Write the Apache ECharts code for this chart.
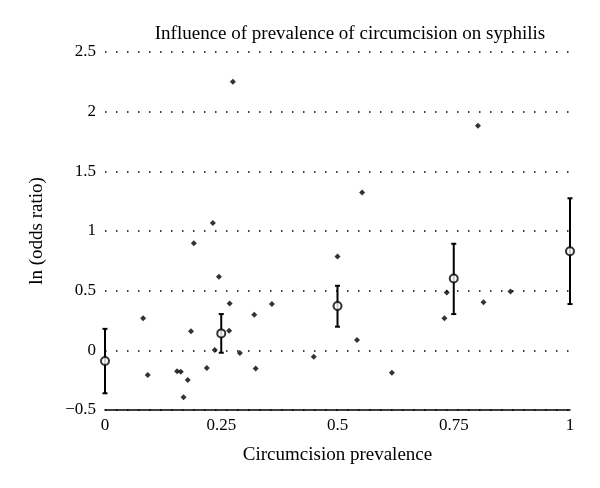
<!DOCTYPE html>
<html>
<head>
<meta charset="utf-8">
<script src="https://cdn.jsdelivr.net/npm/echarts@6/dist/echarts.min.js"></script>
<style>html,body{margin:0;padding:0;background:#fff}#c{width:600px;height:488px}</style>
</head>
<body>
<div id="c"></div>
<script>
// Individual studies: circumcision prevalence and ln(odds ratio)
var studyX = [0.082,0.092,0.155,0.163,0.169,0.178,0.185,0.191,0.219,0.232,0.236,0.245,0.267,0.268,0.275,0.290,0.321,0.324,0.359,0.449,0.500,0.542,0.553,0.617,0.730,0.735,0.802,0.814,0.872];
var studyY = [0.268,-0.207,-0.176,-0.180,-0.393,-0.248,0.159,0.898,-0.148,1.068,0.003,0.617,0.165,0.393,2.251,-0.022,0.299,-0.153,0.388,-0.053,0.787,0.086,1.322,-0.187,0.268,0.485,1.883,0.402,0.494];
// Pooled estimates with confidence intervals
var groupX = [0, 0.25, 0.5, 0.75, 1];
var groupMean = [-0.09, 0.142, 0.371, 0.602, 0.831];
var groupLow = [-0.36, -0.02, 0.198, 0.304, 0.388];
var groupHigh = [0.18, 0.304, 0.541, 0.893, 1.274];
var xTicks = [0, 0.25, 0.5, 0.75, 1];
var yTicks = [-0.5, 0, 0.5, 1, 1.5, 2, 2.5];

var font = '"Liberation Serif", "DejaVu Serif", serif';
var scatterData = studyX.map(function(x, i){ return [x, studyY[i]]; });
var meanData = groupX.map(function(x, i){ return [x, groupMean[i]]; });
var barData = groupX.map(function(x, i){ return [x, groupLow[i], groupHigh[i]]; });

var chart = echarts.init(document.getElementById('c'), null, {renderer: 'canvas'});
chart.setOption({
  backgroundColor: '#fff',
  animation: false,
  title: {
    text: 'Influence of prevalence of circumcision on syphilis',
    left: 345, top: 20, textAlign: 'center',
    textStyle: {fontFamily: font, fontSize: 19, fontWeight: 'normal', color: '#000'}
  },
  grid: {left: 105, right: 30, top: 52, bottom: 78, containLabel: false},
  xAxis: {
    type: 'value', min: 0, max: 1, interval: 0.25,
    name: 'Circumcision prevalence', nameLocation: 'middle', nameGap: 36,
    nameTextStyle: {fontFamily: font, fontSize: 19, color: '#000'},
    axisLine: {show: true, onZero: false, lineStyle: {color: '#000', width: 1.5}},
    axisTick: {show: false},
    splitLine: {show: false},
    axisLabel: {
      fontFamily: font, fontSize: 17, color: '#000', margin: 7,
      formatter: function(v){ var i = xTicks.indexOf(v); return i >= 0 ? String(xTicks[i]) : ''; }
    }
  },
  yAxis: {
    type: 'value', min: -0.5, max: 2.5, interval: 0.5,
    name: 'ln (odds ratio)', nameLocation: 'middle', nameGap: 58, nameRotate: 90,
    nameTextStyle: {fontFamily: font, fontSize: 19, color: '#000'},
    axisLine: {show: false},
    axisTick: {show: false},
    axisLabel: {
      fontFamily: font, fontSize: 17, color: '#000', margin: 9,
      formatter: function(v){ var i = yTicks.indexOf(v); var t = i >= 0 ? yTicks[i] : v; return t < 0 ? '\u2212' + String(-t) : String(t); }
    },
    splitLine: {
      show: true,
      lineStyle: {color: '#000', width: 1.5, type: [1.5, 9.5]}
    }
  },
  series: [
    {
      type: 'scatter', data: scatterData, symbol: 'diamond', symbolSize: 6,
      itemStyle: {color: '#000'}, z: 3
    },
    {
      type: 'custom', data: barData, z: 4,
      renderItem: function(params, api){
        var x = api.value(0);
        var lo = api.coord([x, api.value(1)]);
        var hi = api.coord([x, api.value(2)]);
        var w = 2.5;
        var st = {stroke: '#000', lineWidth: 2};
        return {type: 'group', children: [
          {type: 'line', shape: {x1: lo[0], y1: lo[1], x2: hi[0], y2: hi[1]}, style: st},
          {type: 'line', shape: {x1: lo[0]-w, y1: lo[1], x2: lo[0]+w, y2: lo[1]}, style: st},
          {type: 'line', shape: {x1: hi[0]-w, y1: hi[1], x2: hi[0]+w, y2: hi[1]}, style: st}
        ]};
      },
      clip: false
    },
    {
      type: 'scatter', data: meanData, symbol: 'circle', symbolSize: 8, z: 5,
      itemStyle: {color: '#fff', borderColor: '#000', borderWidth: 2}
    }
  ]
});
</script>
</body>
</html>
